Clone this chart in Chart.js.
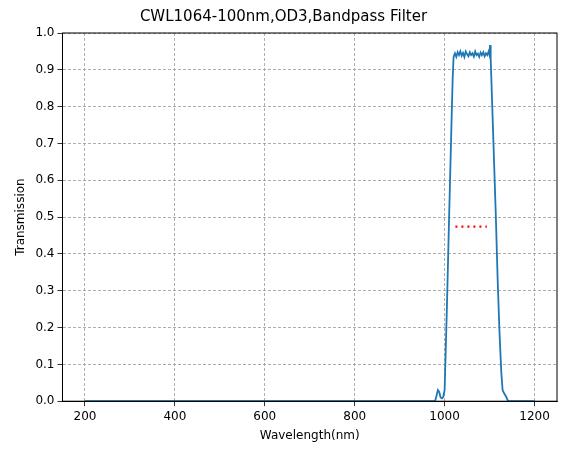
<!DOCTYPE html>
<html><head><meta charset="utf-8">
<script src="https://cdn.jsdelivr.net/npm/chart.js@4/dist/chart.umd.min.js"></script>
<style>html,body{margin:0;padding:0;background:#fff}#w{width:567px;height:455px}</style>
</head><body><div id="w"><canvas id="c" width="567" height="455"></canvas></div>
<script>
const wavelengths = [200,400,600,800,975,979,982,985,988,991,994,997,1000,1005,1010,1015,1018,1020,1023,1026,1029,1032,1035,1038,1041,1044,1047,1050,1053,1056,1059,1062,1065,1068,1071,1074,1077,1080,1083,1086,1089,1092,1095,1098,1100,1101,1102,1103,1106,1110,1114,1118,1122,1126,1129,1133,1137,1141,1144,1150,1200];
const transmission = [0,0,0,0,0,0.001,0.015,0.03,0.025,0.01,0.008,0.012,0.03,0.25,0.5,0.74,0.88,0.935,0.945,0.935,0.948,0.94,0.95,0.938,0.946,0.935,0.95,0.942,0.937,0.948,0.94,0.945,0.936,0.95,0.94,0.944,0.935,0.947,0.94,0.948,0.937,0.945,0.94,0.95,0.94,0.967,0.945,0.93,0.8,0.65,0.5,0.33,0.19,0.08,0.03,0.02,0.012,0.001,0,0,0];
const cwlX = [1024,1094];
const cwlY = [0.474,0.474];
const xTicks = [200,400,600,800,1000,1200];

new Chart(document.getElementById('c'),{
  type:'line',
  data:{datasets:[
    {data:wavelengths.map((x,i)=>({x,y:transmission[i]})),borderColor:'#1f77b4',borderWidth:1.8,pointRadius:0,tension:0},
    {data:cwlX.map((x,i)=>({x,y:cwlY[i]})),borderColor:'#ff0000',borderWidth:2.2,borderDash:[2,4],pointRadius:0}
  ]},
  options:{responsive:false,animation:false,
    layout:{padding:{left:10,right:10,top:4,bottom:12}},
    plugins:{legend:{display:false},tooltip:{enabled:false},
      title:{display:true,text:'CWL1064-100nm,OD3,Bandpass Filter',color:'#000',font:{family:'DejaVu Sans',size:15,weight:'normal'},padding:{top:4,bottom:7}}},
    scales:{
      x:{type:'linear',min:150,max:1250,
        afterBuildTicks:a=>{a.ticks=xTicks.map(v=>({value:v}));},
        grid:{color:'#999',lineWidth:0.8,drawTicks:true,tickLength:5,tickColor:'#000',tickBorderDash:[]},
        border:{color:'#000',dash:[3,2]},
        ticks:{color:'#000',font:{family:'DejaVu Sans',size:12},maxRotation:0,callback:v=>String(v)},
        title:{display:true,text:'Wavelength(nm)',color:'#000',font:{family:'DejaVu Sans',size:12},padding:{top:2,bottom:0}}},
      y:{min:0,max:1,
        grid:{color:'#999',lineWidth:0.8,tickLength:5,tickColor:'#000',tickBorderDash:[]},
        border:{color:'#000',dash:[3,2]},
        ticks:{stepSize:0.1,color:'#000',font:{family:'DejaVu Sans',size:12},callback:v=>v.toFixed(1)},
        title:{display:true,text:'Transmission',color:'#000',font:{family:'DejaVu Sans',size:12},padding:{bottom:4}}}
    }
  },
  plugins:[{id:'frame',afterDraw(c){const a=c.chartArea,x=c.ctx;x.save();x.strokeStyle='#000';x.lineWidth=1;x.strokeRect(a.left,a.top,a.right-a.left,a.bottom-a.top);x.restore();}}]
});
</script></body></html>
